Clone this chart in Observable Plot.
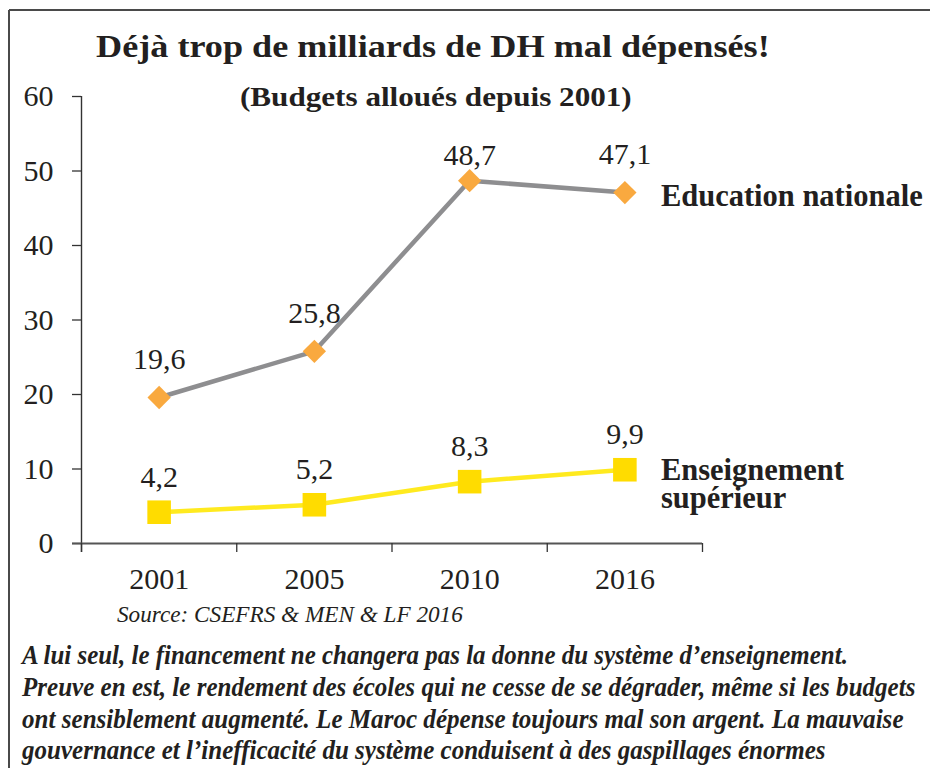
<!DOCTYPE html>
<html>
<head>
<meta charset="utf-8">
<script src="https://cdn.jsdelivr.net/npm/d3@7"></script>
<script src="https://cdn.jsdelivr.net/npm/@observablehq/plot@0.6"></script>
<style>
  html, body { margin: 0; padding: 0; background: #fff; }
  #wrap { position: relative; width: 930px; height: 768px; overflow: hidden; }
  #wrap > svg { position: absolute; left: 0; top: 0; }
  #overlay { position: absolute; left: 0; top: 0; pointer-events: none; }
</style>
</head>
<body>
<div id="wrap"></div>
<script>
// ---- data ----
const years = ["2001", "2005", "2010", "2016"];
const education = [19.6, 25.8, 48.7, 47.1];
const superieur = [4.2, 5.2, 8.3, 9.9];
const yTicks = [0, 10, 20, 30, 40, 50, 60];
const seriesNames = ["Education nationale", "Enseignement\nsupérieur"];
const title = "Déjà trop de milliards de DH mal dépensés!";
const subtitle = "(Budgets alloués depuis 2001)";
const source = "Source: CSEFRS & MEN & LF 2016";
const captionLines = [
  "A lui seul, le financement ne changera pas la donne du système d’enseignement.",
  "Preuve en est, le rendement des écoles qui ne cesse de se dégrader, même si les budgets",
  "ont sensiblement augmenté. Le Maroc dépense toujours mal son argent. La mauvaise",
  "gouvernance et l’inefficacité du système conduisent à des gaspillages énormes"
];

const rows = years.map((year, i) => ({ i, year, edu: education[i], sup: superieur[i] }));
const last = rows.slice(-1);
const fmt = v => v.toFixed(1).replace(".", ",");
const xc = d => d.i + 0.5;           // centre of each category slot
const bounds = d3.range(years.length + 1);
const centres = years.map((_, i) => i + 0.5);

const serif = "'Liberation Serif', 'Times New Roman', serif";
const ink = "#231f20";

const chart = Plot.plot({
  width: 930,
  height: 768,
  marginLeft: 81,
  marginRight: 228,
  marginTop: 96,
  marginBottom: 225,
  style: { fontFamily: serif, background: "transparent", color: ink },
  x: { domain: [0, years.length], axis: null },
  y: { domain: [0, 60], axis: null },
  marks: [
    // axes
    Plot.axisY({ ticks: yTicks, tickSize: 9, tickPadding: 19, fontSize: 30, label: null, stroke: "#333", strokeWidth: 1.3 }),
    Plot.ruleX([0], { stroke: "#333", strokeWidth: 1.4, insetBottom: -9 }),
    Plot.ruleY([0], { stroke: "#555", strokeWidth: 2, insetLeft: -9 }),
    Plot.axisX({ ticks: bounds, tickSize: 9, tickFormat: () => "", label: null, stroke: "#333", strokeWidth: 1.3 }),
    Plot.axisX({ ticks: centres, tickSize: 0, tickPadding: 24, tickFormat: d => years[Math.floor(d)], fontSize: 30, label: null }),
    // lines
    Plot.line(rows, { x: xc, y: "edu", stroke: "#8e8e90", strokeWidth: 4.5 }),
    Plot.line(rows, { x: xc, y: "sup", stroke: "#ffea1f", strokeWidth: 4.5 }),
    // markers
    Plot.dot(rows, { x: xc, y: "edu", symbol: "diamond2", r: 10.5, fill: "#f9a93f", stroke: null }),
    Plot.dot(rows, { x: xc, y: "sup", symbol: "square", r: 13.3, fill: "#ffdc00", stroke: null }),
    // value labels
    Plot.text(rows.filter(d => d.year !== "2010"), { x: xc, y: "edu", text: d => fmt(d.edu), dy: -38, fontSize: 30, fill: ink }),
    Plot.text(rows.filter(d => d.year === "2010"), { x: xc, y: "edu", text: d => fmt(d.edu), dy: -25, fontSize: 30, fill: ink }),
    Plot.text(rows, { x: xc, y: "sup", text: d => fmt(d.sup), dy: -35, fontSize: 30, fill: ink }),
    // series labels
    Plot.text(last, { x: xc, y: "edu", text: () => seriesNames[0], textAnchor: "start", dx: 36, dy: 4, fontSize: 30.5, fontWeight: "bold", fill: ink }),
    Plot.text(last, { x: xc, y: "sup", text: () => seriesNames[1], textAnchor: "start", dx: 36, dy: 15, lineHeight: 0.94, fontSize: 30.5, fontWeight: "bold", fill: ink })
  ]
});

const wrap = document.getElementById("wrap");
wrap.appendChild(chart);

// ---- overlay: frame, title, subtitle, source, caption ----
const ns = "http://www.w3.org/2000/svg";
const ov = document.createElementNS(ns, "svg");
ov.setAttribute("id", "overlay");
ov.setAttribute("width", 930);
ov.setAttribute("height", 768);
wrap.appendChild(ov);

function line(x1, y1, x2, y2) {
  const l = document.createElementNS(ns, "line");
  l.setAttribute("x1", x1); l.setAttribute("y1", y1);
  l.setAttribute("x2", x2); l.setAttribute("y2", y2);
  l.setAttribute("stroke", "#4a4a4a"); l.setAttribute("stroke-width", 2);
  ov.appendChild(l);
}
line(9, 10, 930, 10);
line(9, 10, 9, 768);

// text fitted horizontally to a target width by scaling the glyphs
function txt(s, x, y, w, size, weight, style) {
  const t = document.createElementNS(ns, "text");
  t.textContent = s;
  t.setAttribute("x", 0); t.setAttribute("y", 0);
  t.setAttribute("font-family", serif);
  t.setAttribute("font-size", size);
  t.setAttribute("font-weight", weight);
  t.setAttribute("font-style", style);
  t.setAttribute("fill", ink);
  ov.appendChild(t);
  const natural = t.getComputedTextLength() || w;
  t.setAttribute("transform", `translate(${x},${y}) scale(${w / natural},1)`);
}
txt(title, 96, 57, 674, 31, "bold", "normal");
txt(subtitle, 240, 106, 392, 27.5, "bold", "normal");
txt(source, 117, 622, 346, 23, "normal", "italic");
const capX = 22, capY = [664, 696, 728, 759], capW = [826, 894, 882, 804];
captionLines.forEach((s, i) => txt(s, capX, capY[i], capW[i], 27.5, "bold", "italic"));
</script>
</body>
</html>
